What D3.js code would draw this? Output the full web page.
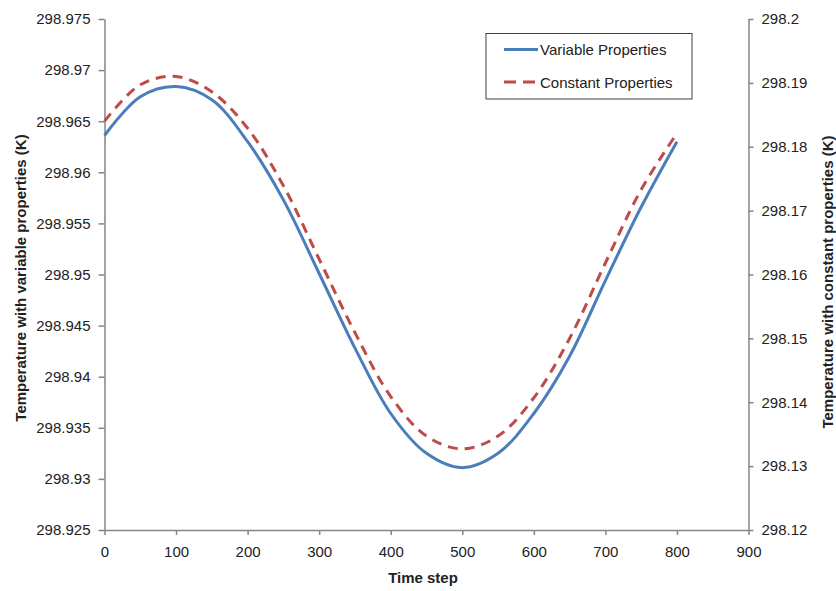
<!DOCTYPE html>
<html>
<head>
<meta charset="utf-8">
<script src="https://cdn.jsdelivr.net/npm/d3@7"></script>
<style>
  body { margin: 0; background: #fff; }
  svg { display: block; font-family: "Liberation Sans", Arial, sans-serif; }
</style>
</head>
<body>
<div id="chart"></div>
<script>
// time steps
var timeSteps = [0, 50, 100, 150, 200, 250, 300, 350, 400, 450, 500, 550, 600, 650, 700, 750, 800];
// left axis series (K)
var variableProps = [298.9636, 298.9674, 298.9684, 298.9671, 298.9630, 298.9573, 298.9501, 298.9428,
  298.9364, 298.9325, 298.9311, 298.9325, 298.9364, 298.9420, 298.9494, 298.9566, 298.9630];
// right axis series (K)
var constantProps = [298.1840, 298.1897, 298.1910, 298.1886, 298.1829, 298.1739, 298.1624, 298.1509,
  298.1409, 298.1347, 298.1327, 298.1347, 298.1407, 298.1500, 298.1618, 298.1733, 298.1821];

var xTicks = [0, 100, 200, 300, 400, 500, 600, 700, 800, 900];
var leftTicks = [298.925, 298.93, 298.935, 298.94, 298.945, 298.95, 298.955, 298.96, 298.965, 298.97, 298.975];
var rightTicks = [298.12, 298.13, 298.14, 298.15, 298.16, 298.17, 298.18, 298.19, 298.2];

var seriesNames = ["Variable Properties", "Constant Properties"];

var svgWidth = 836, svgHeight = 591;
var plotLeft = 104.5, plotRight = 748.5, plotTop = 19, plotBottom = 530;
var axisColor = "#868686";
var textColor = "#222";

var svg = d3.select("#chart").append("svg")
  .attr("width", svgWidth)
  .attr("height", svgHeight);

var x = d3.scaleLinear().domain([0, 900]).range([plotLeft, plotRight]);
var yL = d3.scaleLinear().domain([298.925, 298.975]).range([plotBottom, plotTop]);
var yR = d3.scaleLinear().domain([298.12, 298.2]).range([plotBottom, plotTop]);

function styleAxis(g) {
  g.select(".domain").attr("stroke", axisColor).attr("stroke-width", 1.5);
  g.selectAll(".tick line").attr("stroke", axisColor).attr("stroke-width", 1.5);
  g.selectAll(".tick text")
    .attr("fill", textColor)
    .style("font-size", "15px")
    .style("font-family", "Liberation Sans, Arial, sans-serif");
}

// x axis
svg.append("g")
  .attr("transform", "translate(0," + plotBottom + ")")
  .call(d3.axisBottom(x).tickValues(xTicks).tickSize(5).tickSizeOuter(0).tickPadding(11))
  .call(styleAxis);

// left axis
svg.append("g")
  .attr("transform", "translate(" + plotLeft + ",0)")
  .call(d3.axisLeft(yL).tickValues(leftTicks).tickSize(6).tickSizeOuter(0).tickPadding(8)
    .tickFormat(function(d){ return String(+d.toFixed(3)); }))
  .call(styleAxis);

// right axis
svg.append("g")
  .attr("transform", "translate(" + plotRight + ",0)")
  .call(d3.axisRight(yR).tickValues(rightTicks).tickSize(5).tickSizeOuter(0).tickPadding(8)
    .tickFormat(function(d){ return String(+d.toFixed(2)); }))
  .call(styleAxis);

// lines
var lineL = d3.line()
  .x(function(d, i){ return x(timeSteps[i]); })
  .y(function(d){ return yL(d); })
  .curve(d3.curveCatmullRom);
var lineR = d3.line()
  .x(function(d, i){ return x(timeSteps[i]); })
  .y(function(d){ return yR(d); })
  .curve(d3.curveCatmullRom);

svg.append("path")
  .datum(constantProps)
  .attr("d", lineR)
  .attr("fill", "none")
  .attr("stroke", "#BE4B48")
  .attr("stroke-width", 3)
  .attr("stroke-dasharray", "10,7");

svg.append("path")
  .datum(variableProps)
  .attr("d", lineL)
  .attr("fill", "none")
  .attr("stroke", "#4A7EBB")
  .attr("stroke-width", 3);

// axis titles
svg.append("text")
  .attr("x", 423).attr("y", 583)
  .attr("text-anchor", "middle")
  .attr("fill", textColor)
  .style("font-weight", "bold")
  .style("font-size", "15px")
  .text("Time step");

svg.append("text")
  .attr("transform", "translate(25.5," + 278 + ") rotate(-90)")
  .attr("text-anchor", "middle")
  .attr("fill", textColor)
  .style("font-weight", "bold")
  .style("font-size", "15px")
  .text("Temperature with variable properties (K)");

svg.append("text")
  .attr("transform", "translate(833," + 282 + ") rotate(-90)")
  .attr("text-anchor", "middle")
  .attr("fill", textColor)
  .style("font-weight", "bold")
  .style("font-size", "15px")
  .text("Temperature with constant properties (K)");

// legend
var legend = svg.append("g");
legend.append("rect")
  .attr("x", 486).attr("y", 33.5)
  .attr("width", 206).attr("height", 65.5)
  .attr("fill", "#fff")
  .attr("stroke", "#404040")
  .attr("stroke-width", 1);

legend.append("line")
  .attr("x1", 504).attr("x2", 538).attr("y1", 49.5).attr("y2", 49.5)
  .attr("stroke", "#4A7EBB").attr("stroke-width", 3);
legend.append("line")
  .attr("x1", 504).attr("x2", 538).attr("y1", 82).attr("y2", 82)
  .attr("stroke", "#BE4B48").attr("stroke-width", 3)
  .attr("stroke-dasharray", "12,7");

legend.selectAll("text.lg")
  .data(seriesNames)
  .enter()
  .append("text")
    .attr("class", "lg")
    .attr("x", 540)
    .attr("y", function(d, i){ return 55 + i * 32.5; })
    .attr("fill", textColor)
    .style("font-size", "15px")
    .text(function(d){ return d; });
</script>
</body>
</html>
